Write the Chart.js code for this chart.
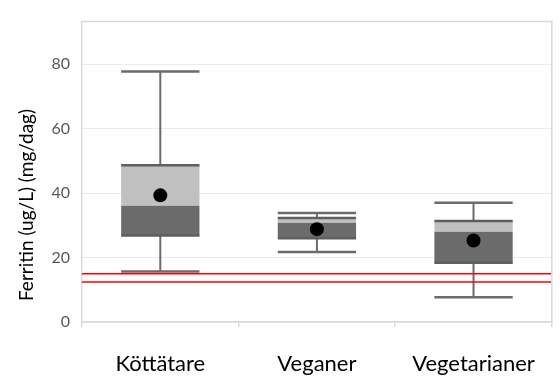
<!DOCTYPE html>
<html>
<head>
<meta charset="utf-8">
<script src="https://cdn.jsdelivr.net/npm/chart.js@4"></script>
<style>
  html, body { margin: 0; padding: 0; background: #fff; }
  #wrap { width: 560px; height: 376px; position: relative; }
</style>
</head>
<body>
<div id="wrap"><canvas id="c" width="560" height="376"></canvas></div>
<script>
const categories = ['Köttätare', 'Veganer', 'Vegetarianer'];
const minVals    = [15.7, 21.7, 7.7];
const q1Vals     = [26.8, 26.0, 18.4];
const medianVals = [36.1, 30.8, 28.0];
const q3Vals     = [48.6, 32.3, 31.3];
const maxVals    = [77.7, 33.8, 37.0];
const meanVals   = [39.3, 28.8, 25.3];
const refLines   = [15.0, 12.4];
const yTicks     = [0, 20, 40, 60, 80];
const yMax       = 93.2;
const yTitle     = 'Ferritin (ug/L) (mg/dag)';

const FONT = 'Lato, "Open Sans", sans-serif';
const WHISKER = '#6b6b6b';

const boxExtras = {
  id: 'boxExtras',
  beforeDatasetsDraw(chart) {
    const ctx = chart.ctx, x = chart.scales.x, y = chart.scales.y;
    const meta = chart.getDatasetMeta(0);
    ctx.save();
    ctx.strokeStyle = WHISKER;
    categories.forEach((c, i) => {
      const bar = meta.data[i];
      const cx = x.getPixelForValue(i);
      const half = bar.width / 2;
      ctx.lineWidth = 2;
      ctx.beginPath();
      ctx.moveTo(cx, y.getPixelForValue(q3Vals[i]));
      ctx.lineTo(cx, y.getPixelForValue(maxVals[i]));
      ctx.moveTo(cx, y.getPixelForValue(q1Vals[i]));
      ctx.lineTo(cx, y.getPixelForValue(minVals[i]));
      ctx.stroke();
      ctx.lineWidth = 2.5;
      ctx.beginPath();
      [maxVals[i], minVals[i]].forEach(v => {
        const py = y.getPixelForValue(v);
        ctx.moveTo(cx - half, py);
        ctx.lineTo(cx + half, py);
      });
      ctx.stroke();
    });
    ctx.restore();
  },
  afterDatasetsDraw(chart) {
    const ctx = chart.ctx, x = chart.scales.x, y = chart.scales.y;
    const meta = chart.getDatasetMeta(0);
    const a = chart.chartArea;
    ctx.save();
    // box edges
    ctx.strokeStyle = '#5f5f5f';
    ctx.lineWidth = 2.5;
    categories.forEach((c, i) => {
      const bar = meta.data[i];
      const cx = x.getPixelForValue(i);
      const half = bar.width / 2;
      ctx.beginPath();
      [q3Vals[i], q1Vals[i]].forEach(v => {
        const py = y.getPixelForValue(v);
        ctx.moveTo(cx - half, py);
        ctx.lineTo(cx + half, py);
      });
      ctx.stroke();
    });
    // reference lines
    ctx.strokeStyle = '#ff0000';
    ctx.lineWidth = 1.5;
    refLines.forEach(v => {
      const py = y.getPixelForValue(v);
      ctx.beginPath();
      ctx.moveTo(a.left, py);
      ctx.lineTo(a.right, py);
      ctx.stroke();
    });
    // frame top/right
    ctx.strokeStyle = '#d9d9d9';
    ctx.lineWidth = 1.5;
    ctx.beginPath();
    ctx.moveTo(a.left, a.top);
    ctx.lineTo(a.right, a.top);
    ctx.lineTo(a.right, a.bottom);
    ctx.stroke();
    ctx.restore();
  },
  afterDraw(chart) {
    const ctx = chart.ctx;
    ctx.save();
    ctx.translate(27, 205);
    ctx.rotate(-Math.PI / 2);
    ctx.font = '19px ' + FONT;
    ctx.fillStyle = '#000';
    ctx.textAlign = 'center';
    ctx.textBaseline = 'middle';
    ctx.fillText(yTitle, 0, 0);
    ctx.restore();
  }
};

new Chart(document.getElementById('c'), {
  data: {
    labels: categories,
    datasets: [
      {
        type: 'bar',
        data: categories.map((c, i) => [q1Vals[i], medianVals[i]]),
        backgroundColor: '#6b6b6b',
        borderWidth: 0,
        grouped: false,
        barPercentage: 0.5,
        categoryPercentage: 1.0,
        order: 2
      },
      {
        type: 'bar',
        data: categories.map((c, i) => [medianVals[i], q3Vals[i]]),
        backgroundColor: '#c0c0c0',
        borderWidth: 0,
        grouped: false,
        barPercentage: 0.5,
        categoryPercentage: 1.0,
        order: 2
      },
      {
        type: 'line',
        data: meanVals,
        showLine: false,
        pointRadius: 7,
        pointBackgroundColor: '#000',
        pointBorderWidth: 0,
        order: 0
      }
    ]
  },
  options: {
    responsive: false,
    animation: false,
    events: [],
    layout: { padding: { top: 12, right: 1, left: 0, bottom: 0 } },
    plugins: { legend: { display: false }, tooltip: { enabled: false } },
    scales: {
      x: {
        offset: true,
        grid: { offset: true, drawOnChartArea: false, drawTicks: true, tickLength: 5, color: '#d9d9d9', lineWidth: 1.5 },
        border: { color: '#d9d9d9', width: 1.5 },
        ticks: { color: '#000', font: { family: FONT, size: 22 }, padding: 24, maxRotation: 0 },
        afterFit(s) { s.height = 54; }
      },
      y: {
        min: 0,
        max: yMax,
        afterBuildTicks(s) { s.ticks = yTicks.map(v => ({ value: v })); },
        grid: { color: '#ebebeb', lineWidth: 1, drawTicks: false },
        border: { color: '#d9d9d9', width: 1.5 },
        ticks: { color: '#595959', font: { family: FONT, size: 16 }, padding: 12 },
        afterFit(s) { s.width = 82; }
      }
    }
  },
  plugins: [boxExtras]
});
</script>
</body>
</html>
